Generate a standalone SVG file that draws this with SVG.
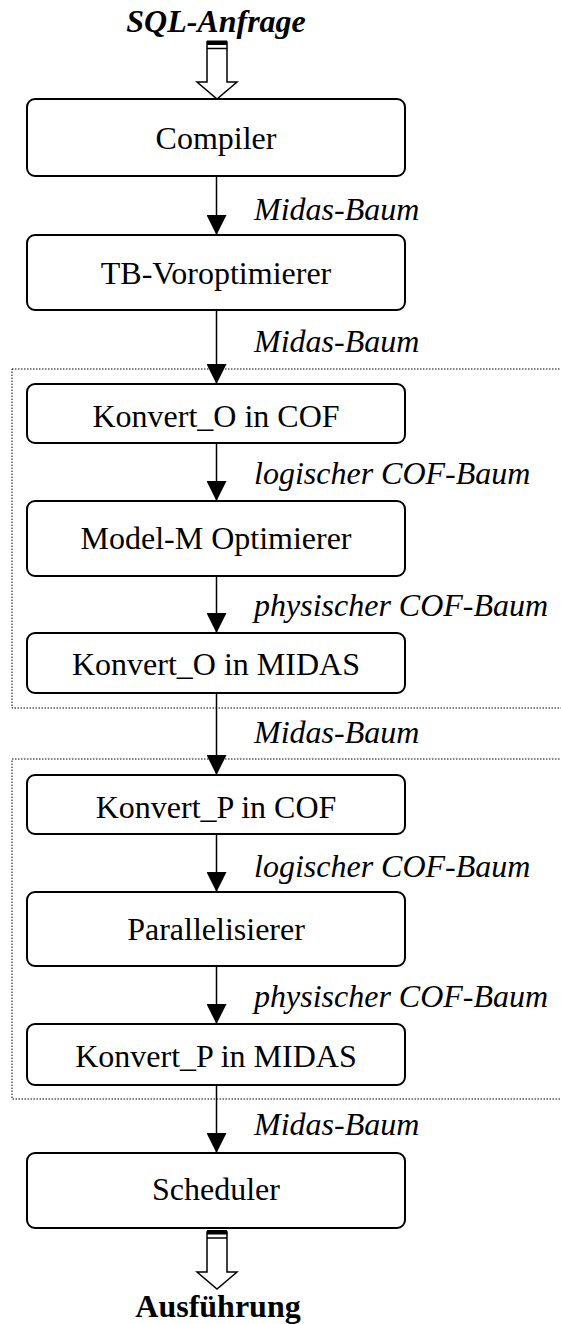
<svg xmlns="http://www.w3.org/2000/svg" width="561" height="1324" viewBox="0 0 561 1324">
<style>
.box{fill:#fff;stroke:#000;stroke-width:2}
.t{font-family:"Liberation Serif","Times New Roman",serif;font-size:32px;text-anchor:middle;fill:#000}
.lbl{font-family:"Liberation Serif","Times New Roman",serif;font-size:32px;font-style:italic;fill:#000}
.io{font-family:"Liberation Serif","Times New Roman",serif;font-size:32px;font-weight:bold;text-anchor:middle;fill:#000}
.con{stroke:#000;stroke-width:1.5;fill:none}
.grp{fill:none;stroke:#000;stroke-width:1;stroke-dasharray:1.5 1.5}
.hollow{fill:#fff;stroke:#000;stroke-width:1.5}
</style>
<defs>
<marker id="ah" viewBox="0 0 20 20" refX="20" refY="10" markerWidth="20" markerHeight="20" markerUnits="userSpaceOnUse" orient="auto">
<path d="M0,0 L20,10 L0,20 Z" fill="#000"/>
</marker>
</defs>

<g id="groups">
<rect class="grp" x="12" y="369" width="560" height="339"/>
<rect class="grp" x="12" y="759" width="560" height="340"/>
</g>

<g id="input">
<text class="io" x="216" y="32" font-style="italic">SQL-Anfrage</text>
<path class="hollow" d="M207,42 L207,82 L197,82 L217,99 L237,82 L227,82 L227,42 Z"/>
<rect x="207" y="40.5" width="20" height="4.5" fill="#000"/>
<line x1="207" y1="48.5" x2="227" y2="48.5" stroke="#000" stroke-width="1.5"/>
</g>

<g id="n-compiler">
<rect class="box" x="27" y="99" width="378" height="77" rx="8"/>
<text class="t" x="216" y="149">Compiler</text>
</g>
<g id="n-tb">
<rect class="box" x="27" y="235" width="378" height="75" rx="8"/>
<text class="t" x="216" y="284">TB-Voroptimierer</text>
</g>
<g id="n-konvO-cof">
<rect class="box" x="27" y="384" width="378" height="59" rx="8"/>
<text class="t" x="216" y="427">Konvert_O in COF</text>
</g>
<g id="n-modelm">
<rect class="box" x="27" y="501" width="378" height="75" rx="8"/>
<text class="t" x="216" y="549">Model-M Optimierer</text>
</g>
<g id="n-konvO-midas">
<rect class="box" x="27" y="633" width="378" height="60" rx="8"/>
<text class="t" x="216" y="675">Konvert_O in MIDAS</text>
</g>
<g id="n-konvP-cof">
<rect class="box" x="27" y="775" width="378" height="59" rx="8"/>
<text class="t" x="216" y="818">Konvert_P in COF</text>
</g>
<g id="n-parallel">
<rect class="box" x="27" y="892" width="378" height="74" rx="8"/>
<text class="t" x="216" y="940">Parallelisierer</text>
</g>
<g id="n-konvP-midas">
<rect class="box" x="27" y="1024" width="378" height="61" rx="8"/>
<text class="t" x="216" y="1067">Konvert_P in MIDAS</text>
</g>
<g id="n-scheduler">
<rect class="box" x="27" y="1153" width="378" height="75" rx="8"/>
<text class="t" x="216" y="1200">Scheduler</text>
</g>

<g id="connectors">
<line class="con" x1="216.5" y1="176" x2="216.5" y2="235" marker-end="url(#ah)"/>
<line class="con" x1="216.5" y1="310" x2="216.5" y2="384" marker-end="url(#ah)"/>
<line class="con" x1="216.5" y1="443" x2="216.5" y2="501" marker-end="url(#ah)"/>
<line class="con" x1="216.5" y1="576" x2="216.5" y2="633" marker-end="url(#ah)"/>
<line class="con" x1="216.5" y1="693" x2="216.5" y2="775" marker-end="url(#ah)"/>
<line class="con" x1="216.5" y1="834" x2="216.5" y2="892" marker-end="url(#ah)"/>
<line class="con" x1="216.5" y1="966" x2="216.5" y2="1024" marker-end="url(#ah)"/>
<line class="con" x1="216.5" y1="1085" x2="216.5" y2="1153" marker-end="url(#ah)"/>
<text class="lbl" x="254" y="220">Midas-Baum</text>
<text class="lbl" x="254" y="352">Midas-Baum</text>
<text class="lbl" x="254" y="484">logischer COF-Baum</text>
<text class="lbl" x="254" y="616">physischer COF-Baum</text>
<text class="lbl" x="254" y="743">Midas-Baum</text>
<text class="lbl" x="254" y="877">logischer COF-Baum</text>
<text class="lbl" x="254" y="1007">physischer COF-Baum</text>
<text class="lbl" x="254" y="1135">Midas-Baum</text>
</g>

<g id="output">
<path class="hollow" d="M207,1232 L207,1272 L197,1272 L217,1289 L237,1272 L227,1272 L227,1232 Z"/>
<rect x="207" y="1230" width="20" height="4.5" fill="#000"/>
<line x1="207" y1="1238" x2="227" y2="1238" stroke="#000" stroke-width="1.5"/>
<text class="io" x="218" y="1317">Ausführung</text>
</g>
</svg>
